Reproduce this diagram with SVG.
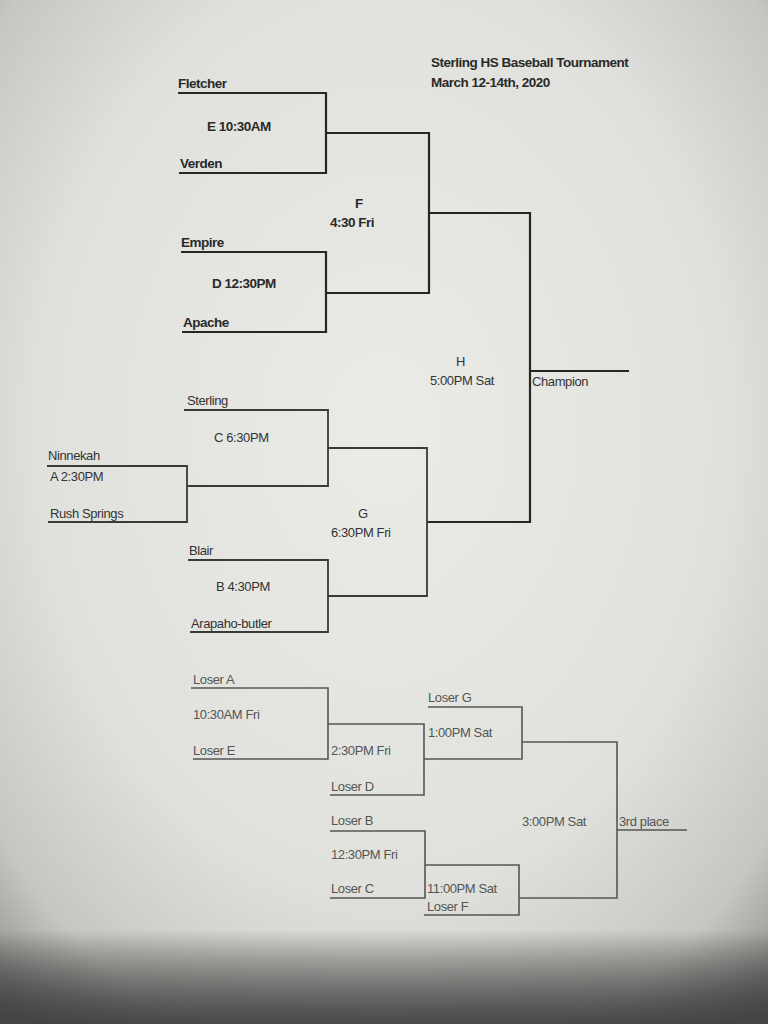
<svg xmlns="http://www.w3.org/2000/svg" width="768" height="1024" viewBox="0 0 768 1024">
<defs>
<radialGradient id="bg" cx="0.5" cy="0.42" r="0.75">
<stop offset="0" stop-color="#ebece7"/>
<stop offset="0.6" stop-color="#e0e1dc"/>
<stop offset="0.85" stop-color="#c6c7c2"/>
<stop offset="1" stop-color="#8a8b88"/>
</radialGradient>
<linearGradient id="bottom" x1="0" y1="0" x2="0" y2="1">
<stop offset="0" stop-color="#000" stop-opacity="0"/>
<stop offset="1" stop-color="#3a3b3a" stop-opacity="0.9"/>
</linearGradient>
<style>
.b{font-family:"Liberation Sans",Arial,sans-serif;font-size:13.5px;font-weight:bold;fill:#2a2a2a;letter-spacing:-0.5px}
.t{font-family:"Liberation Sans",Arial,sans-serif;font-size:13px;fill:#333;letter-spacing:-0.4px}
.m{font-family:"Liberation Sans",Arial,sans-serif;font-size:13px;fill:#555;letter-spacing:-0.4px}
.h{stroke:#262626;stroke-width:2.2;fill:none}
.l{stroke:#3a3a3a;stroke-width:1.8;fill:none}
.g{stroke:#555;stroke-width:1.6;fill:none}
</style>
</defs>
<rect width="768" height="1024" fill="url(#bg)"/>
<rect y="930" width="768" height="94" fill="url(#bottom)"/>

<g id="title">
<text class="b" x="431" y="67">Sterling HS Baseball Tournament</text>
<text class="b" x="431" y="87">March 12-14th, 2020</text>
</g>

<g id="connectors">
<polyline class="h" points="178,93 326,93 326,173 179,173"/>
<polyline class="h" points="181,252 326,252 326,332 182,332"/>
<polyline class="h" points="326,133 429,133 429,293 326,293"/>
<polyline class="h" points="429,213 530,213 530,522 427,522"/>
<line class="h" x1="530" y1="371" x2="629" y2="371"/>
<polyline class="l" points="184,410 328,410 328,486 187,486"/>
<polyline class="l" points="47,466 187,466 187,522 48,522"/>
<polyline class="l" points="188,560 328,560 328,632 190,632"/>
<polyline class="l" points="328,448 427,448 427,596 328,596"/>
<polyline class="g" points="191,688 328,688 328,759 193,759"/>
<polyline class="g" points="328,724 424,724 424,795 330,795"/>
<polyline class="g" points="428,707 522,707 522,759 424,759"/>
<polyline class="g" points="330,831 425,831 425,898 330,898"/>
<polyline class="g" points="425,865 519,865 519,915 424,915"/>
<polyline class="g" points="522,742 617,742 617,898 519,898"/>
<line class="g" x1="617" y1="830" x2="687" y2="830"/>
</g>

<g id="match-E">
<text class="b" x="178" y="88">Fletcher</text>
<text class="b" x="207" y="131">E 10:30AM</text>
<text class="b" x="180" y="168">Verden</text>
</g>
<g id="match-D">
<text class="b" x="181" y="247">Empire</text>
<text class="b" x="212" y="288">D 12:30PM</text>
<text class="b" x="183" y="327">Apache</text>
</g>
<g id="match-F">
<text class="b" x="355" y="208">F</text>
<text class="b" x="330" y="227">4:30 Fri</text>
</g>
<g id="match-H">
<text class="t" x="456" y="366">H</text>
<text class="t" x="430" y="385">5:00PM Sat</text>
</g>
<g id="champion">
<text class="t" x="532" y="386">Champion</text>
</g>
<g id="match-C">
<text class="t" x="187" y="405">Sterling</text>
<text class="t" x="214" y="442">C 6:30PM</text>
</g>
<g id="match-A">
<text class="t" x="48" y="460">Ninnekah</text>
<text class="t" x="50" y="481">A 2:30PM</text>
<text class="t" x="50" y="518">Rush Springs</text>
</g>
<g id="match-B">
<text class="t" x="189" y="555">Blair</text>
<text class="t" x="216" y="591">B 4:30PM</text>
<text class="t" x="191" y="628">Arapaho-butler</text>
</g>
<g id="match-G">
<text class="t" x="358" y="518">G</text>
<text class="t" x="331" y="537">6:30PM Fri</text>
</g>
<g id="cons-1">
<text class="m" x="193" y="684">Loser A</text>
<text class="m" x="193" y="719">10:30AM Fri</text>
<text class="m" x="193" y="755">Loser E</text>
</g>
<g id="cons-2">
<text class="m" x="331" y="755">2:30PM Fri</text>
<text class="m" x="331" y="791">Loser D</text>
</g>
<g id="cons-3">
<text class="m" x="428" y="702">Loser G</text>
<text class="m" x="428" y="737">1:00PM Sat</text>
</g>
<g id="cons-4">
<text class="m" x="331" y="825">Loser B</text>
<text class="m" x="331" y="859">12:30PM Fri</text>
<text class="m" x="331" y="893">Loser C</text>
</g>
<g id="cons-5">
<text class="m" x="427" y="893">11:00PM Sat</text>
<text class="m" x="427" y="911">Loser F</text>
</g>
<g id="cons-final">
<text class="m" x="522" y="826">3:00PM Sat</text>
<text class="m" x="619" y="826">3rd place</text>
</g>
</svg>
